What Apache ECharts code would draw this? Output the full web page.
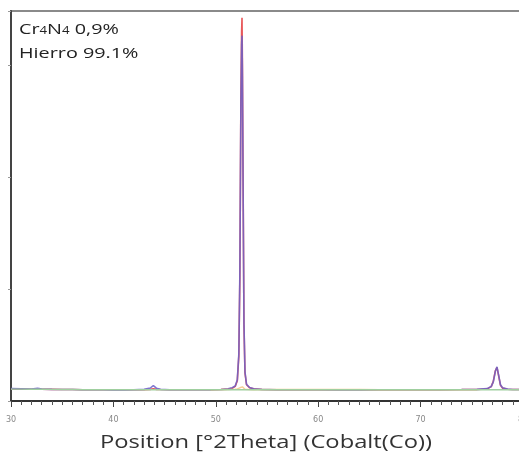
<!DOCTYPE html>
<html>
<head>
<meta charset="utf-8">
<script src="https://cdn.jsdelivr.net/npm/echarts@6/dist/echarts.min.js"></script>
<style>
  html, body { margin: 0; padding: 0; background: #fff; }
  #chart { width: 519px; height: 456px; }
</style>
</head>
<body>
<div id="chart"></div>
<script>
// Diffraction scan, 2θ positions in degrees (Co Kα)
const twoTheta = [
  30.0, 31.0, 32.0, 32.6, 33.0, 34.0, 35.0, 36.0, 37.0, 38.0, 39.0, 40.0, 41.0, 42.0,
  43.0, 43.6, 43.9, 44.2, 44.6, 45.5, 46.5, 47.5, 48.5, 49.5, 50.5, 51.2, 51.6, 51.9,
  52.1, 52.25, 52.35, 52.45, 52.52, 52.56, 52.6, 52.67, 52.75, 52.85, 53.0, 53.3, 53.7,
  54.5, 56.0, 58.0, 60.0, 62.0, 64.0, 66.0, 68.0, 70.0, 72.0, 74.0, 75.5, 76.5, 76.9,
  77.1, 77.3, 77.46, 77.6, 77.8, 78.0, 78.5, 79.0, 80.0
];

// Measured counts
const observed = [
  110, 108, 106, 114, 106, 104, 103, 102, 101, 100, 100, 99, 99, 100,
  104, 116, 138, 114, 104, 101, 100, 100, 100, 101, 103, 108, 118, 135,
  190, 420, 1150, 2650, 3180, 3260, 2900, 1850, 700, 260, 150, 120, 110,
  104, 101, 100, 100, 99, 99, 100, 100, 100, 101, 102, 104, 110, 130,
  170, 265, 305, 240, 145, 118, 106, 103, 102
];

// Fitted profile
const calculated = [
  106, 106, 105, 105, 105, 104, 103, 102, 101, 100, 100, 100, 100, 100,
  101, 104, 110, 104, 102, 101, 100, 100, 100, 101, 102, 106, 114, 130,
  180, 400, 1100, 2700, 3300, 3420, 3000, 1900, 680, 250, 145, 118, 108,
  103, 101, 100, 100, 100, 100, 100, 100, 100, 101, 102, 103, 108, 128,
  175, 270, 300, 235, 140, 115, 105, 103, 102
];

// Background
const background = [
  106, 106, 105, 105, 105, 104, 103, 102, 101, 100, 100, 100, 100, 100,
  100, 100, 100, 100, 100, 100, 100, 100, 100, 100, 100, 101, 101, 101,
  101, 101, 101, 101, 101, 101, 101, 101, 101, 101, 101, 101, 101,
  100, 100, 100, 100, 100, 100, 100, 100, 100, 100, 100, 100, 100, 100,
  100, 100, 100, 100, 100, 100, 100, 100, 100
];

// Cr4N4 phase contribution (on top of background)
const crPhase = [
  null, null, null, null, null, null, null, null, null, null, null, null, null, null,
  null, null, null, null, null, null, null, null, null, 101, 102, 103, 104, 105,
  108, 112, 118, 124, 128, 130, 126, 118, 110, 105, 103, 102, 101,
  102, 103, 102, 103, 102, 103, 101, 100, 101, 100, 101, 101, null, null,
  null, null, null, null, null, null, null, null, null
];

const xTicks = [30, 40, 50, 60, 70, 80];

const pairs = (ys) => twoTheta.map((x, i) => [x, ys[i]]);

const chart = echarts.init(document.getElementById('chart'), null, { renderer: 'canvas' });

chart.setOption({
  animation: false,
  backgroundColor: '#fff',
  grid: {
    left: 11, top: 11, width: 512, height: 390,
    outerBoundsMode: 'none',
    show: true, borderColor: '#8a8a8a', borderWidth: 2, backgroundColor: 'transparent'
  },
  xAxis: {
    type: 'value',
    min: xTicks[0], max: xTicks[xTicks.length - 1], interval: 10,
    axisLine: { show: true, lineStyle: { color: '#333', width: 2 } },
    axisTick: { show: true, length: 6, lineStyle: { color: '#444', width: 1 } },
    minorTick: { show: true, splitNumber: 10, length: 4, lineStyle: { color: '#555', width: 1 } },
    splitLine: { show: false },
    axisLabel: { fontSize: 8, color: '#888', margin: 15, fontFamily: 'DejaVu Sans' }
  },
  yAxis: {
    type: 'value',
    min: 0, max: 3480, interval: 1000,
    axisLine: { show: true, lineStyle: { color: '#444', width: 2 } },
    axisTick: { show: true, length: 3, lineStyle: { color: '#999' } },
    axisLabel: { show: false },
    splitLine: { show: false }
  },
  series: [
    {
      name: 'Calculado', type: 'line', data: pairs(calculated), showSymbol: false,
      lineStyle: { color: '#e8585a', width: 1.6 }, z: 2
    },
    {
      name: 'Observado', type: 'line', data: pairs(observed), showSymbol: false,
      lineStyle: { color: '#6b62c9', width: 1.6, opacity: 0.85 }, z: 3
    },
    {
      name: 'Cr4N4', type: 'line', data: pairs(crPhase), showSymbol: false, connectNulls: false,
      lineStyle: { color: '#f2c27a', width: 1.4, opacity: 0.8 }, z: 4
    },
    {
      name: 'Fondo', type: 'line', data: pairs(background), showSymbol: false,
      lineStyle: { color: '#9fcf9f', width: 1.4 }, z: 5
    }
  ],
  graphic: [
    {
      // phase fractions, set in wide lettering
      type: 'text', x: 19, y: 18, scaleX: 1.32,
      style: {
        text: 'Cr{s|4}N{s|4} 0,9%\nHierro 99.1%',
        fontSize: 15, lineHeight: 24, fill: '#222', fontFamily: 'Open Sans',
        rich: { s: { fontSize: 10, fill: '#222', fontFamily: 'Open Sans', padding: [3, 0, 0, 0] } }
      }
    },
    {
      // x-axis title
      type: 'text', x: 266, y: 443, scaleX: 1.25,
      style: {
        text: 'Position [°2Theta] (Cobalt(Co))',
        fontSize: 19, fill: '#333', fontFamily: 'Open Sans',
        align: 'center', verticalAlign: 'middle'
      }
    }
  ]
});
</script>
</body>
</html>
